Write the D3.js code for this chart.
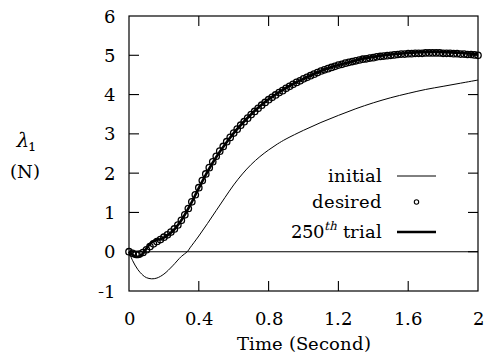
<!DOCTYPE html>
<html><head><meta charset="utf-8">
<script src="https://cdn.jsdelivr.net/npm/d3@7"></script>
<style>
@font-face { font-family: "PlotSerif"; src: local("DejaVu Serif"), local("DejaVuSerif"); }
svg text, svg tspan { font-family: "PlotSerif", "DejaVu Serif", serif !important; }
</style>
</head>
<body style="margin:0;background:#fff"><svg id="c" width="484" height="359"></svg>
<script>
const xTicks = [0, 0.4, 0.8, 1.2, 1.6, 2];
const xTickLabels = ["0", "0.4", "0.8", "1.2", "1.6", "2"];
const yTicks = [-1, 0, 1, 2, 3, 4, 5, 6];
const yTickLabels = ["-1", "0", "1", "2", "3", "4", "5", "6"];
const seriesNames = ["initial", "desired", "trial"];

// initial trajectory (time, value)
const initialT = [0, 0.02, 0.05, 0.08, 0.10, 0.13, 0.16, 0.20, 0.25, 0.30, 0.334, 0.35, 0.40, 0.45, 0.50, 0.55, 0.60, 0.65, 0.70, 0.75, 0.80, 0.85, 0.90, 1.00, 1.10, 1.20, 1.30, 1.40, 1.50, 1.60, 1.70, 1.80, 1.90, 2.00];
const initialV = [0, -0.22, -0.45, -0.60, -0.66, -0.69, -0.67, -0.57, -0.36, -0.12, 0, 0.10, 0.40, 0.72, 1.05, 1.38, 1.70, 1.98, 2.22, 2.42, 2.59, 2.74, 2.87, 3.09, 3.29, 3.47, 3.64, 3.79, 3.92, 4.03, 4.13, 4.21, 4.29, 4.37];

// desired trajectory, sampled every 0.02 s
const desiredT = d3.range(0, 2.0001, 0.02);
const desiredV = [0.00, -0.04, -0.07, -0.06, -0.02, 0.05, 0.13, 0.20, 0.26, 0.31,
  0.37, 0.43, 0.50, 0.58, 0.68, 0.80, 0.94, 1.10, 1.27, 1.45,
  1.63, 1.81, 1.98, 2.14, 2.29, 2.43, 2.56, 2.68, 2.80, 2.91,
  3.02, 3.12, 3.22, 3.31, 3.40, 3.49, 3.57, 3.65, 3.73, 3.80,
  3.87, 3.93, 3.99, 4.05, 4.10, 4.16, 4.21, 4.26, 4.31, 4.35,
  4.40, 4.44, 4.48, 4.52, 4.56, 4.60, 4.63, 4.66, 4.69, 4.72,
  4.75, 4.77, 4.80, 4.82, 4.84, 4.86, 4.88, 4.90, 4.91, 4.93,
  4.94, 4.96, 4.97, 4.98, 4.99, 5.00, 5.01, 5.02, 5.03, 5.03,
  5.04, 5.04, 5.05, 5.05, 5.05, 5.06, 5.06, 5.06, 5.06, 5.06,
  5.05, 5.05, 5.05, 5.04, 5.04, 5.03, 5.03, 5.02, 5.02, 5.01, 5.00];

// 250th trial trajectory
const trialT = [0, 0.02, 0.04, 0.06, 0.08, 0.10, 0.12, 0.14, 0.16, 0.18, 0.20, 0.25, 0.30, 0.35, 0.40, 0.45, 0.50, 0.55, 0.60, 0.65, 0.70, 0.75, 0.80, 0.85, 0.90, 0.95, 1.00, 1.10, 1.20, 1.30, 1.40, 1.50, 1.60, 1.70, 1.80, 1.90, 2.00];
const trialV = [0, -0.08, -0.13, -0.12, -0.05, 0.08, 0.20, 0.27, 0.30, 0.32, 0.36, 0.52, 0.80, 1.18, 1.62, 2.04, 2.41, 2.73, 3.02, 3.27, 3.50, 3.70, 3.88, 4.03, 4.17, 4.29, 4.40, 4.60, 4.75, 4.87, 4.96, 5.02, 5.06, 5.08, 5.08, 5.06, 5.03];

const svg = d3.select("#c");
const L = 129, R = 478, T = 16, B = 291;
const x = d3.scaleLinear().domain([0, 2]).range([L, R]);
const y = d3.scaleLinear().domain([-1, 6]).range([B, T]);
const TL = 10;
const FS = 18;

function txt(px, py, anchor, size) {
  return svg.append("text")
    .attr("x", px).attr("y", py)
    .attr("text-anchor", anchor).attr("font-size", size || FS)
    .attr("font-family", "DejaVu Serif").attr("fill", "#000");
}

// frame
svg.append("rect").attr("x", L).attr("y", T).attr("width", R - L).attr("height", B - T)
  .attr("fill", "none").attr("stroke", "#000").attr("stroke-width", 1.2);

// ticks (inward, mirrored)
const g = svg.append("g").attr("stroke", "#000").attr("stroke-width", 1.1);
xTicks.slice(1, -1).forEach(t => {
  g.append("line").attr("x1", x(t)).attr("x2", x(t)).attr("y1", B).attr("y2", B - TL);
  g.append("line").attr("x1", x(t)).attr("x2", x(t)).attr("y1", T).attr("y2", T + TL);
});
yTicks.slice(1, -1).forEach(v => {
  g.append("line").attr("x1", L).attr("x2", L + TL).attr("y1", y(v)).attr("y2", y(v));
  g.append("line").attr("x1", R).attr("x2", R - TL).attr("y1", y(v)).attr("y2", y(v));
});
// zero line
g.append("line").attr("x1", L).attr("x2", R).attr("y1", y(0)).attr("y2", y(0));

// tick labels
xTicks.forEach((t, i) => txt(x(t), 325, "middle").text(xTickLabels[i]));
yTicks.forEach((v, i) => txt(115, y(v) + 6.5, "end").text(yTickLabels[i]));

// axis titles
txt(304, 350, "middle").text("Time (Second)");
const yl = txt(15, 147, "start", 20);
yl.append("tspan").attr("font-style", "italic").text("λ");
yl.append("tspan").attr("font-size", 13).attr("dy", 4).text("1");
txt(10, 178, "start").text("(N)");

// series
const line = d3.line().x(d => x(d[0])).y(d => y(d[1])).curve(d3.curveCatmullRom);
const initialData = initialT.map((t, i) => [t, initialV[i]]);
const trialData = trialT.map((t, i) => [t, trialV[i]]);
const desiredData = desiredT.map((t, i) => [t, desiredV[i]]);

svg.append("path").datum(initialData).attr("d", line).attr("fill", "none")
  .attr("stroke", "#000").attr("stroke-width", 1);
svg.append("g").selectAll("circle").data(desiredData).join("circle")
  .attr("cx", d => x(d[0])).attr("cy", d => y(d[1])).attr("r", 3.2)
  .attr("fill", "none").attr("stroke", "#000").attr("stroke-width", 1.3);
svg.append("path").datum(trialData).attr("d", line).attr("fill", "none")
  .attr("stroke", "#000").attr("stroke-width", 2.6);

// legend
const lx = 382, sx1 = 397, sx2 = 436;
const ly = [182, 208, 238];
txt(lx, ly[0], "end").text("initial");
svg.append("line").attr("x1", sx1).attr("x2", sx2).attr("y1", ly[0] - 6).attr("y2", ly[0] - 6)
  .attr("stroke", "#000").attr("stroke-width", 1);
txt(lx, ly[1], "end").text("desired");
svg.append("circle").attr("cx", (sx1 + sx2) / 2).attr("cy", ly[1] - 6).attr("r", 2.2)
  .attr("fill", "none").attr("stroke", "#000").attr("stroke-width", 1.1);
const t3 = txt(lx, ly[2], "end");
t3.append("tspan").text("250");
t3.append("tspan").attr("font-size", 12).attr("font-style", "italic").attr("dy", -8).text("th");
t3.append("tspan").attr("dy", 8).text(" trial");
svg.append("line").attr("x1", sx1).attr("x2", sx2).attr("y1", ly[2] - 6).attr("y2", ly[2] - 6)
  .attr("stroke", "#000").attr("stroke-width", 2.6);
</script></body></html>
